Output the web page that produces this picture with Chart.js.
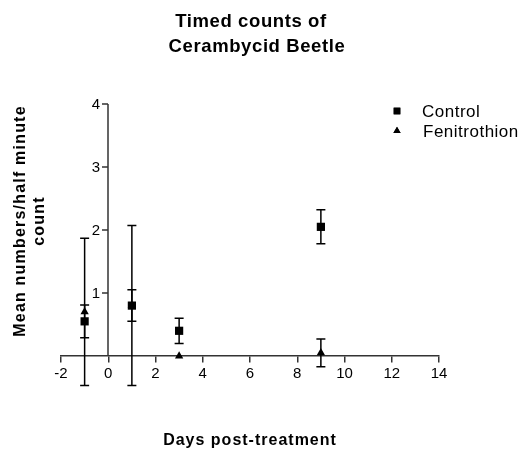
<!DOCTYPE html>
<html>
<head>
<meta charset="utf-8">
<script src="https://cdn.jsdelivr.net/npm/chart.js@4.4.1/dist/chart.umd.min.js"></script>
<style>
  html, body { margin: 0; padding: 0; background: #fff; }
  canvas { display: block; }
</style>
</head>
<body>
<canvas id="chart" width="531" height="451"></canvas>
<script>
// days post-treatment
const days = [-1, 1, 3, 9];

// mean counts and error (+/-) per sampling day
const controlMean = [0.55, 0.80, 0.40, 2.05];
const controlErr = [0.26, 0.25, 0.20, 0.27];
const fenitrothionMean = [0.70, 0.80, 0.00, 0.05];
const fenitrothionErr = [1.17, 1.27, 0.00, 0.22];

const xTicks = [-2, 0, 2, 4, 6, 8, 10, 12, 14];
const yTicks = [1, 2, 3, 4];

const labelFont = '"Liberation Sans", Arial, sans-serif';
const axisColor = '#333';

function toPoints(means) {
    return days.map((d, i) => ({ x: d, y: means[i] }));
}

// vertical error bars with caps, drawn under the markers
const errorBars = {
    id: 'errorBars',
    beforeDatasetsDraw(chart) {
        const ctx = chart.ctx;
        const xs = chart.scales.x, ys = chart.scales.y;
        const sets = [[fenitrothionMean, fenitrothionErr], [controlMean, controlErr]];
        ctx.save();
        ctx.strokeStyle = '#000';
        ctx.lineWidth = 1.5;
        sets.forEach(([means, errs]) => {
            days.forEach((d, i) => {
                if (!errs[i]) return;
                const px = xs.getPixelForValue(d);
                const top = ys.getPixelForValue(means[i] + errs[i]);
                const bot = ys.getPixelForValue(means[i] - errs[i]);
                ctx.beginPath();
                ctx.moveTo(px, top); ctx.lineTo(px, bot);
                ctx.moveTo(px - 4.5, top); ctx.lineTo(px + 4.5, top);
                ctx.moveTo(px - 4.5, bot); ctx.lineTo(px + 4.5, bot);
                ctx.stroke();
            });
        });
        ctx.restore();
    }
};

// y axis sits on x = 0 and only runs from 0 up to the top tick
const yAxisAtZero = {
    id: 'yAxisAtZero',
    beforeDatasetsDraw(chart) {
        const ctx = chart.ctx;
        const xs = chart.scales.x, ys = chart.scales.y;
        const px = Math.round(xs.getPixelForValue(0));
        ctx.save();
        ctx.strokeStyle = axisColor;
        ctx.lineWidth = 1.5;
        ctx.beginPath();
        ctx.moveTo(px, ys.getPixelForValue(0));
        ctx.lineTo(px, ys.getPixelForValue(yTicks[yTicks.length - 1]));
        yTicks.forEach(v => {
            const py = Math.round(ys.getPixelForValue(v));
            ctx.moveTo(px, py);
            ctx.lineTo(px - 6, py);
        });
        ctx.stroke();
        ctx.fillStyle = '#000';
        ctx.font = '15px ' + labelFont;
        ctx.textAlign = 'right';
        ctx.textBaseline = 'middle';
        yTicks.forEach(v => {
            ctx.fillText(String(v), px - 8, ys.getPixelForValue(v) + 1);
        });
        ctx.restore();
    }
};

// titles and legend
const annotations = {
    id: 'annotations',
    afterDraw(chart) {
        const ctx = chart.ctx;
        ctx.save();
        ctx.fillStyle = '#000';

        ctx.font = 'bold 18.5px ' + labelFont;
        ctx.letterSpacing = '0.6px';
        ctx.textAlign = 'center';
        ctx.textBaseline = 'alphabetic';
        ctx.fillText('Timed counts of', 251, 27);
        ctx.fillText('Cerambycid Beetle', 257, 52);

        ctx.font = 'bold 16px ' + labelFont;
        ctx.letterSpacing = '1px';
        ctx.fillText('Days post-treatment', 250, 445);

        ctx.save();
        ctx.translate(24.5, 221);
        ctx.rotate(-Math.PI / 2);
        ctx.letterSpacing = '1.2px';
        ctx.fillText('Mean numbers/half minute', 0, 0);
        ctx.fillText('count', 0, 19);
        ctx.restore();

        ctx.letterSpacing = '0.5px';
        ctx.font = '17px ' + labelFont;
        ctx.textAlign = 'left';
        const items = [
            { text: 'Control', style: 'rect', r: 4.7, y: 111, tx: 422 },
            { text: 'Fenitrothion', style: 'triangle', r: 4.2, y: 131, tx: 423 }
        ];
        items.forEach(it => {
            Chart.helpers.drawPoint(ctx, { pointStyle: it.style, radius: it.r, rotation: 0, borderWidth: 0 }, 397, it.y);
            ctx.fill();
            ctx.fillText(it.text, it.tx, it.y + 6);
        });
        ctx.restore();
    }
};

new Chart(document.getElementById('chart'), {
    type: 'scatter',
    data: {
        datasets: [
            {
                label: 'Control',
                data: toPoints(controlMean),
                pointStyle: 'rect',
                pointRadius: 5.8,
                backgroundColor: '#000',
                borderColor: '#000',
                borderWidth: 0,
                clip: false
            },
            {
                label: 'Fenitrothion',
                data: toPoints(fenitrothionMean),
                pointStyle: 'triangle',
                pointRadius: 4.8,
                backgroundColor: '#000',
                borderColor: '#000',
                borderWidth: 0,
                clip: false
            }
        ]
    },
    options: {
        responsive: false,
        animation: false,
        layout: { padding: { left: 61, right: 92, top: 104, bottom: 95 } },
        plugins: {
            legend: { display: false },
            tooltip: { enabled: false }
        },
        scales: {
            x: {
                type: 'linear',
                position: { y: 0 },
                min: -2,
                max: 14,
                afterBuildTicks: axis => { axis.ticks = xTicks.map(v => ({ value: v })); },
                ticks: { color: '#000', padding: 3, font: { family: labelFont, size: 15 } },
                grid: { drawOnChartArea: false, tickLength: 6, color: axisColor, lineWidth: 1.5 },
                border: { color: axisColor, width: 1.5 }
            },
            y: {
                type: 'linear',
                display: false,
                min: 0,
                max: 4
            }
        }
    },
    plugins: [errorBars, yAxisAtZero, annotations]
});
</script>
</body>
</html>
